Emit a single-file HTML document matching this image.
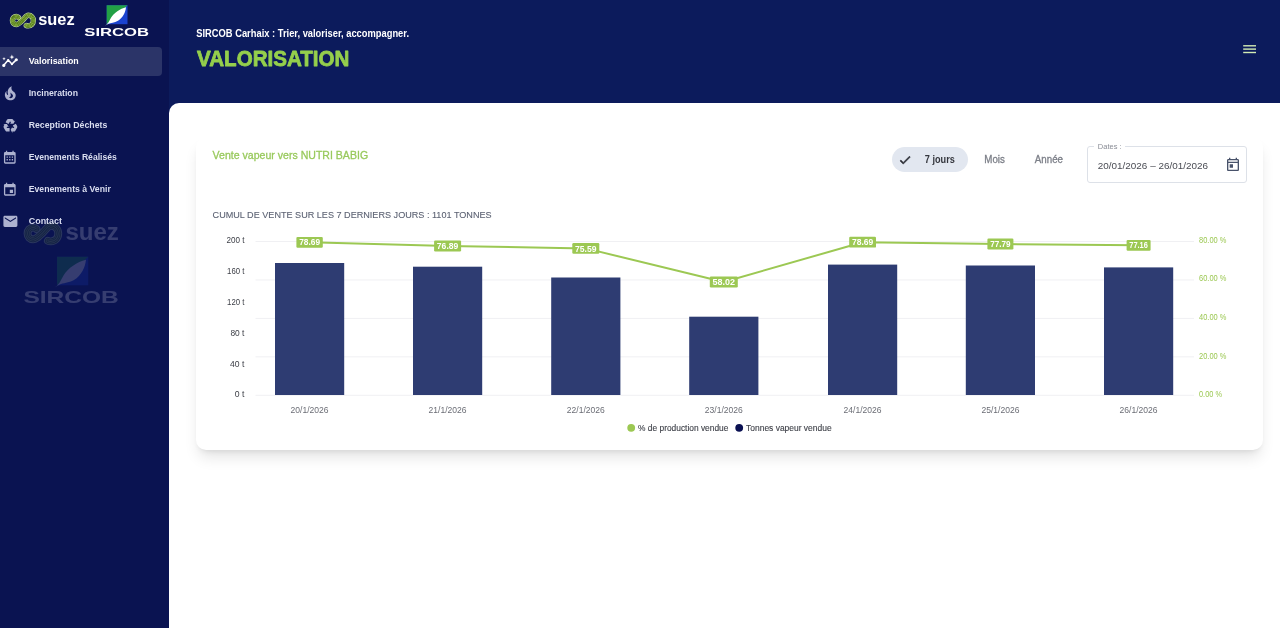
<!DOCTYPE html>
<html lang="fr">
<head>
<meta charset="utf-8">
<title>SIRCOB - Valorisation</title>
<style>
*{box-sizing:border-box;margin:0;padding:0}
html,body{width:1280px;height:628px;overflow:hidden;background:#0c1b5c;font-family:"Liberation Sans",sans-serif;}
#sidebar{position:absolute;left:0;top:0;width:169px;height:628px;background:#0a1351;}
#header{position:absolute;left:169px;top:0;width:1111px;height:104px;background:#0c1b5c;}
#content{position:absolute;left:169px;top:103.4px;width:1111px;height:525px;background:#fff;border-top-left-radius:10px;}
.nav{position:absolute;left:0;width:161px;height:30px;border-radius:0 4px 4px 0;}
.nav.active{background:#2b3468;}
.nav svg{position:absolute;left:2px;top:7px;width:16px;height:16px;fill:#aeb3cf}
.nav.active svg{fill:#fff}
.nav span{position:absolute;left:28px;top:9px;font-size:9.2px;font-weight:bold;color:#dcdff0;line-height:12px;white-space:nowrap}
.nav.active span{color:#fff}
#sub{position:absolute;left:196px;top:27px;font-size:10px;font-weight:bold;color:#fff;line-height:12px;white-space:nowrap}
#title{position:absolute;left:196px;top:45px;font-size:21.5px;font-weight:bold;color:#95cf4c;line-height:26px;white-space:nowrap}
#card{position:absolute;left:196px;top:137px;width:1067px;height:313px;background:#fff;border-radius:10px;box-shadow:0 10px 15px -3px rgba(0,0,0,0.11),0 4px 6px -4px rgba(0,0,0,0.12);}
.t{position:absolute;white-space:nowrap;line-height:12px}
#chip{position:absolute;left:892px;top:147px;width:76px;height:25px;border-radius:13px;background:#e2e7f0}
#field{position:absolute;left:1087px;top:146px;width:160px;height:37px;border:1px solid #dde1e8;border-radius:3px}
svg{display:block}
</style>
</head>
<body>
<div id="sidebar"></div>
<div id="header"></div>
<div id="content"></div>
<svg style="position:absolute;left:8px;top:10px;opacity:1.0;will-change:transform" width="70.0" height="24.0" viewBox="0 0 70 24"><g fill="none" stroke-linecap="round" stroke-linejoin="round"><path d="M10.4 7.4 C9.7 6.8 9.0 6.55 8.3 6.55 C6.0 6.6 4.45 8.3 4.45 10.5 C4.45 12.8 6.1 14.5 8.3 14.5 C10.0 14.5 11.3 13.3 14.6 10.2 C17.0 7.9 18.2 5.3 20.3 5.3 C23.3 5.3 25.35 7.7 25.35 10.6 C25.35 13.6 23.2 15.9 20.3 15.9 C19.5 15.9 18.9 15.8 18.3 15.5" stroke="#bcd695" stroke-width="5.4"/><path d="M10.4 7.4 C9.7 6.8 9.0 6.55 8.3 6.55 C6.0 6.6 4.45 8.3 4.45 10.5 C4.45 12.8 6.1 14.5 8.3 14.5 C10.0 14.5 11.3 13.3 14.6 10.2 C17.0 7.9 18.2 5.3 20.3 5.3 C23.3 5.3 25.35 7.7 25.35 10.6 C25.35 13.6 23.2 15.9 20.3 15.9 C19.5 15.9 18.9 15.8 18.3 15.5" stroke="#3f6612" stroke-width="4.0"/><path d="M10.4 7.4 C9.7 6.8 9.0 6.55 8.3 6.55 C6.0 6.6 4.45 8.3 4.45 10.5 C4.45 12.8 6.1 14.5 8.3 14.5 C10.0 14.5 11.3 13.3 14.6 10.2 C17.0 7.9 18.2 5.3 20.3 5.3 C23.3 5.3 25.35 7.7 25.35 10.6 C25.35 13.6 23.2 15.9 20.3 15.9 C19.5 15.9 18.9 15.8 18.3 15.5" stroke="#a5cb4f" stroke-width="2.9"/><path d="M10.4 7.4 C9.7 6.8 9.0 6.55 8.3 6.55 C6.0 6.6 4.45 8.3 4.45 10.5 C4.45 12.8 6.1 14.5 8.3 14.5 C10.0 14.5 11.3 13.3 14.6 10.2 C17.0 7.9 18.2 5.3 20.3 5.3 C23.3 5.3 25.35 7.7 25.35 10.6 C25.35 13.6 23.2 15.9 20.3 15.9 C19.5 15.9 18.9 15.8 18.3 15.5" stroke="#3f6612" stroke-width="1.9"/><path d="M10.4 7.4 C9.7 6.8 9.0 6.55 8.3 6.55 C6.0 6.6 4.45 8.3 4.45 10.5 C4.45 12.8 6.1 14.5 8.3 14.5 C10.0 14.5 11.3 13.3 14.6 10.2 C17.0 7.9 18.2 5.3 20.3 5.3 C23.3 5.3 25.35 7.7 25.35 10.6 C25.35 13.6 23.2 15.9 20.3 15.9 C19.5 15.9 18.9 15.8 18.3 15.5" stroke="#a5cb4f" stroke-width="0.7"/></g><text x="30.2" y="15.2" font-family="Liberation Sans, sans-serif" font-weight="bold" font-size="16.6" fill="#fff" textLength="36.4" lengthAdjust="spacingAndGlyphs">suez</text></svg>
<svg style="position:absolute;left:82px;top:3.5px;opacity:1.0;will-change:transform" width="70.0" height="36.0" viewBox="0 0 70 36"><rect x="24.7" y="1.2" width="20.8" height="19" fill="#1b43cf"/><path d="M24.7 1.2 H45.5 L24.7 20.2 Z" fill="#22a045"/><path d="M23 21.7 C26 20.2 27 17.2 29 13.7 C32 8.7 38 4.7 44 3.2 C43.5 8.2 41 13.7 36 16.7 C32.5 18.7 28.5 18.7 26.5 19.7 Z" fill="#fff"/><text x="2.3" y="32.3" font-family="Liberation Sans, sans-serif" font-weight="bold" font-size="10.9" fill="#fff" textLength="64.7" lengthAdjust="spacingAndGlyphs">SIRCOB</text></svg>
<svg style="position:absolute;left:21.4px;top:218.2px;opacity:0.18;will-change:transform" width="102.9" height="35.3" viewBox="0 0 70 24"><g fill="none" stroke-linecap="round" stroke-linejoin="round"><path d="M10.4 7.4 C9.7 6.8 9.0 6.55 8.3 6.55 C6.0 6.6 4.45 8.3 4.45 10.5 C4.45 12.8 6.1 14.5 8.3 14.5 C10.0 14.5 11.3 13.3 14.6 10.2 C17.0 7.9 18.2 5.3 20.3 5.3 C23.3 5.3 25.35 7.7 25.35 10.6 C25.35 13.6 23.2 15.9 20.3 15.9 C19.5 15.9 18.9 15.8 18.3 15.5" stroke="#bcd695" stroke-width="5.4"/><path d="M10.4 7.4 C9.7 6.8 9.0 6.55 8.3 6.55 C6.0 6.6 4.45 8.3 4.45 10.5 C4.45 12.8 6.1 14.5 8.3 14.5 C10.0 14.5 11.3 13.3 14.6 10.2 C17.0 7.9 18.2 5.3 20.3 5.3 C23.3 5.3 25.35 7.7 25.35 10.6 C25.35 13.6 23.2 15.9 20.3 15.9 C19.5 15.9 18.9 15.8 18.3 15.5" stroke="#3f6612" stroke-width="4.0"/><path d="M10.4 7.4 C9.7 6.8 9.0 6.55 8.3 6.55 C6.0 6.6 4.45 8.3 4.45 10.5 C4.45 12.8 6.1 14.5 8.3 14.5 C10.0 14.5 11.3 13.3 14.6 10.2 C17.0 7.9 18.2 5.3 20.3 5.3 C23.3 5.3 25.35 7.7 25.35 10.6 C25.35 13.6 23.2 15.9 20.3 15.9 C19.5 15.9 18.9 15.8 18.3 15.5" stroke="#a5cb4f" stroke-width="2.9"/><path d="M10.4 7.4 C9.7 6.8 9.0 6.55 8.3 6.55 C6.0 6.6 4.45 8.3 4.45 10.5 C4.45 12.8 6.1 14.5 8.3 14.5 C10.0 14.5 11.3 13.3 14.6 10.2 C17.0 7.9 18.2 5.3 20.3 5.3 C23.3 5.3 25.35 7.7 25.35 10.6 C25.35 13.6 23.2 15.9 20.3 15.9 C19.5 15.9 18.9 15.8 18.3 15.5" stroke="#3f6612" stroke-width="1.9"/><path d="M10.4 7.4 C9.7 6.8 9.0 6.55 8.3 6.55 C6.0 6.6 4.45 8.3 4.45 10.5 C4.45 12.8 6.1 14.5 8.3 14.5 C10.0 14.5 11.3 13.3 14.6 10.2 C17.0 7.9 18.2 5.3 20.3 5.3 C23.3 5.3 25.35 7.7 25.35 10.6 C25.35 13.6 23.2 15.9 20.3 15.9 C19.5 15.9 18.9 15.8 18.3 15.5" stroke="#a5cb4f" stroke-width="0.7"/></g><text x="30.2" y="15.2" font-family="Liberation Sans, sans-serif" font-weight="bold" font-size="16.6" fill="#fff" textLength="36.4" lengthAdjust="spacingAndGlyphs">suez</text></svg>
<svg style="position:absolute;left:20.2px;top:254.6px;opacity:0.18;will-change:transform" width="105.0" height="54.0" viewBox="0 0 70 36"><rect x="24.7" y="1.2" width="20.8" height="19" fill="#1b43cf"/><path d="M24.7 1.2 H45.5 L24.7 20.2 Z" fill="#22a045"/><path d="M23 21.7 C26 20.2 27 17.2 29 13.7 C32 8.7 38 4.7 44 3.2 C43.5 8.2 41 13.7 36 16.7 C32.5 18.7 28.5 18.7 26.5 19.7 Z" fill="#fff"/><text x="2.3" y="32.3" font-family="Liberation Sans, sans-serif" font-weight="bold" font-size="10.9" fill="#fff" textLength="63.6" lengthAdjust="spacingAndGlyphs">SIRCOB</text></svg>
<div class="nav active" style="top:46.5px;height:29.3px;width:161.7px"></div>
<svg style="position:absolute;left:0;top:50px" width="24" height="24" viewBox="0 50 24 24"><polyline points="3.8,65.3 8.2,60.1 11.9,64.1 16.2,59.9" fill="none" stroke="#fff" stroke-width="1.5" stroke-linejoin="round" stroke-linecap="round"/><circle cx="3.8" cy="65.4" r="1.55" fill="#fff"/><circle cx="16.3" cy="59.8" r="1.55" fill="#fff"/><circle cx="8.2" cy="60.0" r="1.1" fill="#fff"/><circle cx="11.9" cy="64.2" r="1.1" fill="#fff"/><path d="M11.9 54.6 L12.6 56.4 L14.4 57.1 L12.6 57.8 L11.9 59.6 L11.2 57.8 L9.4 57.1 L11.2 56.4 Z" fill="#fff"/><path d="M4.0 57.0 L4.5 58.2 L5.7 58.7 L4.5 59.2 L4.0 60.4 L3.5 59.2 L2.3 58.7 L3.5 58.2 Z" fill="#fff"/></svg>
<svg style="position:absolute;left:0.75px;top:83.85px" width="18.6" height="18.6" viewBox="0 0 24 24"><path fill="#adb2cf" d="M17.66 11.2C17.43 10.9 17.15 10.64 16.89 10.38C16.22 9.78 15.46 9.35 14.82 8.72C13.33 7.26 13 4.85 13.95 3C13 3.23 12.17 3.75 11.46 4.32C8.87 6.4 7.85 10.07 9.07 13.22C9.11 13.32 9.15 13.42 9.15 13.55C9.15 13.77 9 13.97 8.8 14.05C8.57 14.15 8.33 14.09 8.14 13.93C8.08 13.88 8.04 13.83 8 13.76C6.87 12.33 6.69 10.28 7.45 8.64C5.78 10 4.87 12.3 5 14.47C5.06 14.97 5.12 15.47 5.29 15.97C5.43 16.57 5.7 17.17 6 17.7C7.08 19.43 8.95 20.67 10.96 20.92C13.1 21.19 15.39 20.8 17.03 19.32C18.86 17.66 19.5 15 18.56 12.72L18.43 12.46C18.22 12 17.66 11.2 17.66 11.2M14.5 17.5C14.22 17.74 13.76 18 13.4 18.1C12.28 18.5 11.16 17.94 10.5 17.28C11.69 17 12.4 16.12 12.61 15.23C12.78 14.43 12.46 13.77 12.33 13C12.21 12.26 12.23 11.63 12.5 10.94C12.69 11.32 12.89 11.7 13.13 12C13.9 13 15.11 13.44 15.37 14.8C15.41 14.94 15.43 15.08 15.43 15.23C15.46 16.05 15.1 16.95 14.5 17.5H14.5Z"/></svg>
<svg style="position:absolute;left:1.75px;top:116.85px" width="16.6" height="16.6" viewBox="0 0 24 24"><path fill="#adb2cf" d="M21.82,15.42L19.32,19.75C18.83,20.61 17.92,21.06 17,21H15V23L12.5,18.5L15,14V16H17.82L15.6,12.15L19.93,9.65L21.73,12.77C22.25,13.54 22.32,14.57 21.82,15.42M9.21,3.06H14.21C15.19,3.06 16.04,3.63 16.45,4.45L17.45,6.19L19.18,5.19L16.54,9.6L11.39,9.69L13.12,8.69L11.71,6.24L9.5,10.09L5.16,7.59L6.96,4.47C7.37,3.64 8.22,3.06 9.21,3.06M5.05,19.76L2.55,15.43C2.06,14.58 2.13,13.56 2.64,12.79L3.64,11.06L1.91,10.06L7.05,10.14L9.7,14.56L7.97,13.56L6.56,16H11V21H7.4C6.47,21.07 5.55,20.61 5.05,19.76Z"/></svg>
<svg style="position:absolute;left:2.25px;top:150.15px" width="15.6" height="15.6" viewBox="0 0 24 24"><path fill="#adb2cf" d="M9,10V12H7V10H9M13,10V12H11V10H13M17,10V12H15V10H17M19,3A2,2 0 0,1 21,5V19A2,2 0 0,1 19,21H5C3.89,21 3,20.1 3,19V5A2,2 0 0,1 5,3H6V1H8V3H16V1H18V3H19M19,19V8H5V19H19M9,14V16H7V14H9M13,14V16H11V14H13M17,14V16H15V14H17Z"/></svg>
<svg style="position:absolute;left:2.25px;top:181.85px" width="15.6" height="15.6" viewBox="0 0 24 24"><path fill="#adb2cf" d="M19,19H5V8H19M16,1V3H8V1H6V3H5C3.89,3 3,3.89 3,5V19A2,2 0 0,0 5,21H19A2,2 0 0,0 21,19V5C21,3.89 20.1,3 19,3H18V1M17,12H12V17H17V12Z"/></svg>
<svg style="position:absolute;left:1.65px;top:212.75px" width="16.8" height="16.8" viewBox="0 0 24 24"><path fill="#adb2cf" d="M20,8L12,13L4,8V6L12,11L20,6M20,4H4C2.89,4 2,4.89 2,6V18A2,2 0 0,0 4,20H20A2,2 0 0,0 22,18V6C22,4.89 21.1,4 20,4Z"/></svg>
<svg style="position:absolute;left:1243px;top:44px" width="14" height="10" viewBox="0 0 14 10"><g fill="#d3ecb4"><rect x="0.2" y="1.1" width="12.8" height="1.4"/><rect x="0.2" y="4.4" width="12.8" height="1.4"/><rect x="0.2" y="7.8" width="12.8" height="1.4"/></g></svg>
<div id="card"></div>
<div id="chip"></div>
<svg style="position:absolute;left:898px;top:153px" width="14" height="14" viewBox="0 0 24 24"><path fill="#2a2c33" stroke="#2a2c33" stroke-width="1.1" stroke-linejoin="round" d="M21,7L9,19L3.5,13.5L4.91,12.09L9,16.17L19.59,5.59L21,7Z"/></svg>
<div id="field"></div>
<div class="t" style="left:1094px;top:141px;width:31px;height:11px;background:#fff;"></div>
<svg style="position:absolute;left:1225px;top:156.5px" width="16" height="16" viewBox="0 0 24 24"><path fill="#48526a" d="M19 3H18V1H16V3H8V1H6V3H5C3.9 3 3 3.9 3 5V19C3 20.11 3.9 21 5 21H19C20.11 21 21 20.11 21 19V5C21 3.9 20.11 3 19 3M19 19H5V9H19V19M19 7H5V5H19M7 11H12V16H7Z"/></svg>
<svg style="position:absolute;left:0;top:0;will-change:transform" width="1280" height="628" viewBox="0 0 1280 628" font-family="Liberation Sans, sans-serif">
<rect x="255.5" y="241.00" width="938.5" height="1" fill="#f0f0f3"/>
<rect x="255.5" y="279.45" width="938.5" height="1" fill="#f0f0f3"/>
<rect x="255.5" y="317.90" width="938.5" height="1" fill="#f0f0f3"/>
<rect x="255.5" y="356.35" width="938.5" height="1" fill="#f0f0f3"/>
<rect x="255.5" y="394.80" width="938.5" height="1" fill="#f0f0f3"/>
<rect x="275.0" y="263.0" width="69.2" height="132.0" fill="#2e3c72"/>
<rect x="413.0" y="266.7" width="69.2" height="128.3" fill="#2e3c72"/>
<rect x="551.2" y="277.5" width="69.2" height="117.5" fill="#2e3c72"/>
<rect x="689.2" y="316.7" width="69.2" height="78.3" fill="#2e3c72"/>
<rect x="828.0" y="264.6" width="69.2" height="130.4" fill="#2e3c72"/>
<rect x="965.8" y="265.5" width="69.2" height="129.5" fill="#2e3c72"/>
<rect x="1104.0" y="267.4" width="69.2" height="127.6" fill="#2e3c72"/>
<polyline points="309.6,242.3 447.6,246.0 585.8,248.4 723.8,282.0 862.6,242.2 1000.4,244.0 1138.6,245.3" fill="none" stroke="#9cc853" stroke-width="2" stroke-linejoin="round"/>
<rect x="296.4" y="236.9" width="26.4" height="10.8" rx="1.2" fill="#9cc853"/>
<rect x="434.1" y="240.6" width="27" height="10.8" rx="1.2" fill="#9cc853"/>
<rect x="572.3" y="243.0" width="27" height="10.8" rx="1.2" fill="#9cc853"/>
<rect x="709.8" y="276.6" width="28" height="10.8" rx="1.2" fill="#9cc853"/>
<rect x="849.2" y="236.8" width="26.8" height="10.8" rx="1.2" fill="#9cc853"/>
<rect x="987.4" y="238.6" width="26" height="10.8" rx="1.2" fill="#9cc853"/>
<rect x="1126.6" y="239.9" width="24" height="10.8" rx="1.2" fill="#9cc853"/>
<circle cx="631.2" cy="427.8" r="3.9" fill="#9cc853"/>
<circle cx="739.2" cy="427.8" r="3.9" fill="#0a1052"/>
<text x="28.7" y="64.05" font-size="9.1" fill="#fff" font-weight="bold" textLength="50" lengthAdjust="spacingAndGlyphs">Valorisation</text>
<text x="28.7" y="96.05" font-size="9.1" fill="#dadef0" font-weight="bold" textLength="49.3" lengthAdjust="spacingAndGlyphs">Incineration</text>
<text x="28.7" y="128.05" font-size="9.1" fill="#dadef0" font-weight="bold" textLength="78.6" lengthAdjust="spacingAndGlyphs">Reception Déchets</text>
<text x="28.7" y="160.05" font-size="9.1" fill="#dadef0" font-weight="bold" textLength="88.2" lengthAdjust="spacingAndGlyphs">Evenements Réalisés</text>
<text x="28.7" y="192.05" font-size="9.1" fill="#dadef0" font-weight="bold" textLength="82.1" lengthAdjust="spacingAndGlyphs">Evenements à Venir</text>
<text x="28.7" y="224.05" font-size="9.1" fill="#dadef0" font-weight="bold" textLength="33.4" lengthAdjust="spacingAndGlyphs">Contact</text>
<text x="196.3" y="36.9" font-size="10" fill="#fff" font-weight="bold" textLength="212.7" lengthAdjust="spacingAndGlyphs">SIRCOB Carhaix : Trier, valoriser, accompagner.</text>
<text x="197.1" y="66" font-size="21.5" font-weight="bold" fill="#95cf4c" stroke="#95cf4c" stroke-width="0.8" stroke-linejoin="round" textLength="152.2" lengthAdjust="spacingAndGlyphs">VALORISATION</text>
<text x="212.6" y="158.7" font-size="11.5" fill="#98c95c" stroke="#98c95c" stroke-width="0.3" textLength="155.5" lengthAdjust="spacingAndGlyphs">Vente vapeur vers NUTRI BABIG</text>
<text x="212.6" y="218.3" font-size="9.6" fill="#5b6172" stroke="#5b6172" stroke-width="0.1" textLength="279.0" lengthAdjust="spacingAndGlyphs">CUMUL DE VENTE SUR LES 7 DERNIERS JOURS : 1101 TONNES</text>
<text x="924.8" y="163.1" font-size="10" fill="#34363d" font-weight="bold" textLength="30" lengthAdjust="spacingAndGlyphs">7 jours</text>
<text x="984.3" y="163.1" font-size="10" fill="#7c7f88" stroke="#7c7f88" stroke-width="0.3" textLength="20.6" lengthAdjust="spacingAndGlyphs">Mois</text>
<text x="1034.8" y="163.1" font-size="10" fill="#7c7f88" stroke="#7c7f88" stroke-width="0.3" textLength="28.2" lengthAdjust="spacingAndGlyphs">Année</text>
<text x="1097.8" y="148.9" font-size="7.3" fill="#8a8d96" textLength="23.8" lengthAdjust="spacingAndGlyphs">Dates :</text>
<text x="1097.8" y="169.1" font-size="9.8" fill="#4a4c54" textLength="110.2" lengthAdjust="spacingAndGlyphs">20/01/2026 – 26/01/2026</text>
<text x="309.6" y="245.4" font-size="8.6" fill="#fff" font-weight="bold" text-anchor="middle" textLength="20.9" lengthAdjust="spacingAndGlyphs">78.69</text>
<text x="447.6" y="249.1" font-size="8.6" fill="#fff" font-weight="bold" text-anchor="middle" textLength="21.5" lengthAdjust="spacingAndGlyphs">76.89</text>
<text x="585.8" y="251.5" font-size="8.6" fill="#fff" font-weight="bold" text-anchor="middle" textLength="21.5" lengthAdjust="spacingAndGlyphs">75.59</text>
<text x="723.8" y="285.1" font-size="8.6" fill="#fff" font-weight="bold" text-anchor="middle" textLength="22.5" lengthAdjust="spacingAndGlyphs">58.02</text>
<text x="862.6" y="245.3" font-size="8.6" fill="#fff" font-weight="bold" text-anchor="middle" textLength="21.3" lengthAdjust="spacingAndGlyphs">78.69</text>
<text x="1000.4" y="247.1" font-size="8.6" fill="#fff" font-weight="bold" text-anchor="middle" textLength="20.5" lengthAdjust="spacingAndGlyphs">77.79</text>
<text x="1138.6" y="248.4" font-size="8.6" fill="#fff" font-weight="bold" text-anchor="middle" textLength="18.5" lengthAdjust="spacingAndGlyphs">77.16</text>
<text x="244.4" y="243.4" font-size="8.3" fill="#3e4048" text-anchor="end" textLength="18" lengthAdjust="spacingAndGlyphs">200 t</text>
<text x="244.4" y="274.2" font-size="8.3" fill="#3e4048" text-anchor="end" textLength="17.3" lengthAdjust="spacingAndGlyphs">160 t</text>
<text x="244.4" y="305.0" font-size="8.3" fill="#3e4048" text-anchor="end" textLength="17.3" lengthAdjust="spacingAndGlyphs">120 t</text>
<text x="244.4" y="335.7" font-size="8.3" fill="#3e4048" text-anchor="end" textLength="14" lengthAdjust="spacingAndGlyphs">80 t</text>
<text x="244.4" y="366.5" font-size="8.3" fill="#3e4048" text-anchor="end" textLength="14.3" lengthAdjust="spacingAndGlyphs">40 t</text>
<text x="244.4" y="397.3" font-size="8.3" fill="#3e4048" text-anchor="end" textLength="9.6" lengthAdjust="spacingAndGlyphs">0 t</text>
<text x="1199" y="242.7" font-size="8.3" fill="#9cc853" textLength="27.4" lengthAdjust="spacingAndGlyphs">80.00 %</text>
<text x="1199" y="281.3" font-size="8.3" fill="#9cc853" textLength="27.4" lengthAdjust="spacingAndGlyphs">60.00 %</text>
<text x="1199" y="319.9" font-size="8.3" fill="#9cc853" textLength="27.4" lengthAdjust="spacingAndGlyphs">40.00 %</text>
<text x="1199" y="358.5" font-size="8.3" fill="#9cc853" textLength="27.4" lengthAdjust="spacingAndGlyphs">20.00 %</text>
<text x="1199" y="397.1" font-size="8.3" fill="#9cc853" textLength="23" lengthAdjust="spacingAndGlyphs">0.00 %</text>
<text x="309.6" y="412.8" font-size="8.6" fill="#6b6d75" text-anchor="middle" textLength="38" lengthAdjust="spacingAndGlyphs">20/1/2026</text>
<text x="447.6" y="412.8" font-size="8.6" fill="#6b6d75" text-anchor="middle" textLength="38" lengthAdjust="spacingAndGlyphs">21/1/2026</text>
<text x="585.8" y="412.8" font-size="8.6" fill="#6b6d75" text-anchor="middle" textLength="38" lengthAdjust="spacingAndGlyphs">22/1/2026</text>
<text x="723.8" y="412.8" font-size="8.6" fill="#6b6d75" text-anchor="middle" textLength="38" lengthAdjust="spacingAndGlyphs">23/1/2026</text>
<text x="862.6" y="412.8" font-size="8.6" fill="#6b6d75" text-anchor="middle" textLength="38" lengthAdjust="spacingAndGlyphs">24/1/2026</text>
<text x="1000.4" y="412.8" font-size="8.6" fill="#6b6d75" text-anchor="middle" textLength="38" lengthAdjust="spacingAndGlyphs">25/1/2026</text>
<text x="1138.6" y="412.8" font-size="8.6" fill="#6b6d75" text-anchor="middle" textLength="38" lengthAdjust="spacingAndGlyphs">26/1/2026</text>
<text x="638.1" y="430.8" font-size="8.5" fill="#3e4048" stroke="#3e4048" stroke-width="0.12" textLength="90.3" lengthAdjust="spacingAndGlyphs">% de production vendue</text>
<text x="746.1" y="430.8" font-size="8.5" fill="#3e4048" stroke="#3e4048" stroke-width="0.12" textLength="85.5" lengthAdjust="spacingAndGlyphs">Tonnes vapeur vendue</text>
</svg>
</body>
</html>
